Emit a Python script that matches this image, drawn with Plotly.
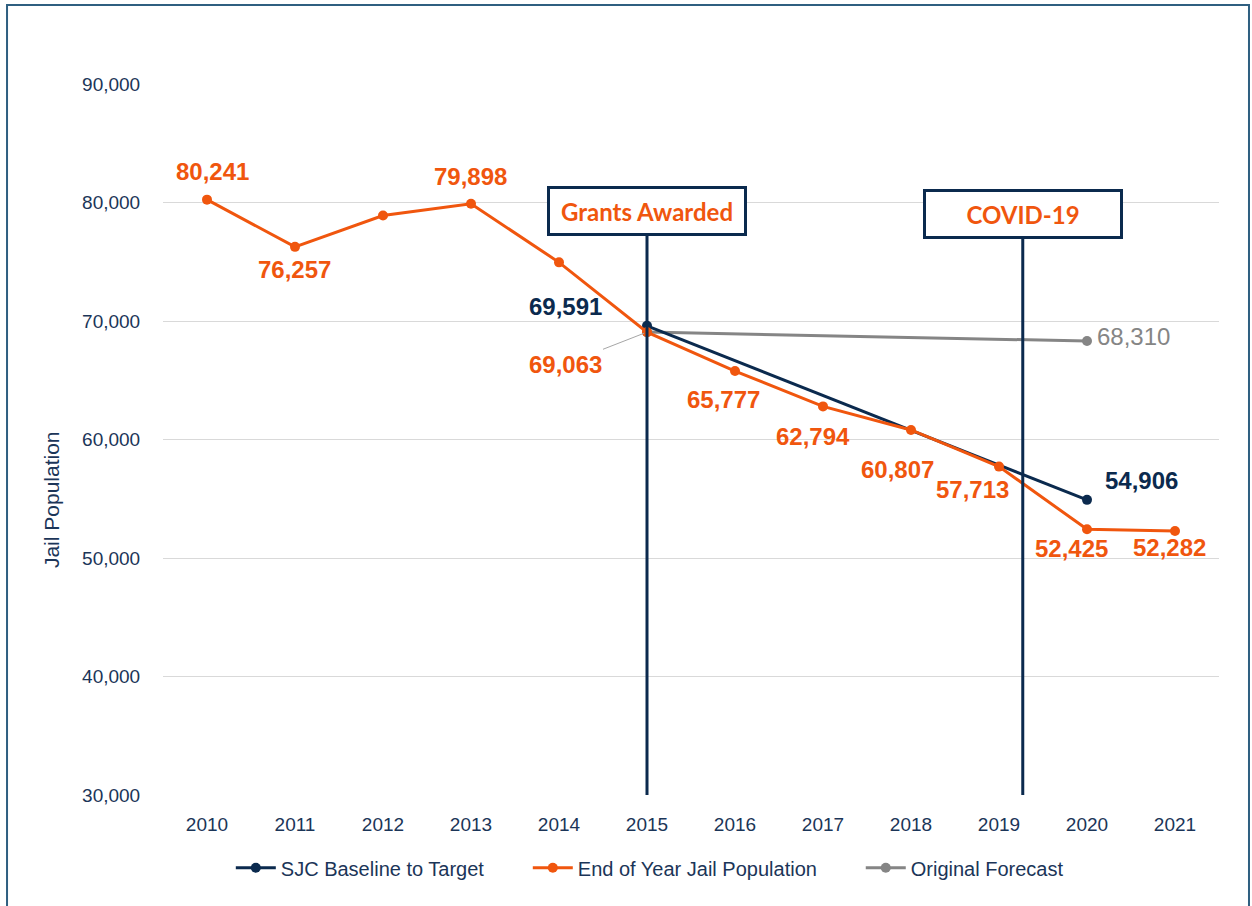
import plotly.graph_objects as go

years = [2010, 2011, 2012, 2013, 2014, 2015, 2016, 2017, 2018, 2019, 2020, 2021]
jail_pop = [80241, 76257, 78900, 79898, 74950, 69063, 65777, 62794, 60807, 57713, 52425, 52282]
baseline_years = [2015, 2020]
baseline_vals = [69591, 54906]
forecast_years = [2015, 2020]
forecast_vals = [69063, 68310]
events = ["Grants Awarded", "COVID-19"]
event_x = [2015, 2019.27]

NAVY = "#0B2A4E"
ORANGE = "#F0560E"
GRAY = "#858585"
TICK = "#1B3558"
FONT = "Liberation Sans, Arial, sans-serif"
PAD = "\u00a0" * 7

fig = go.Figure()
fig.add_trace(go.Scatter(x=forecast_years, y=forecast_vals, mode="lines+markers",
                         name="Original Forecast", legendrank=3,
                         line=dict(color=GRAY, width=3), marker=dict(size=10, color=GRAY)))
fig.add_trace(go.Scatter(x=baseline_years, y=baseline_vals, mode="lines+markers",
                         name="SJC Baseline to Target" + PAD, legendrank=1,
                         line=dict(color=NAVY, width=3), marker=dict(size=10, color=NAVY)))
fig.add_trace(go.Scatter(x=years, y=jail_pop, mode="lines+markers",
                         name="End of Year Jail Population" + PAD, legendrank=2,
                         line=dict(color=ORANGE, width=3), marker=dict(size=10, color=ORANGE)))

ann = []
LS = 24
lab_font = dict(family=FONT, size=LS, color=ORANGE)
# orange labels: (index, xshift, yshift)
orange_offsets = {0: (5, 28), 1: (-1, -23), 3: (-1, 27), 6: (-12, -28), 7: (-10, -30),
                  8: (-14, -40), 9: (-27, -23), 10: (-16, -19), 11: (-6, -17)}
for i, (dx, dy) in orange_offsets.items():
    ann.append(dict(x=years[i], y=jail_pop[i], text=f"<b>{jail_pop[i]:,}</b>", showarrow=False,
                    xshift=dx, yshift=dy, font=lab_font))
# 2015 orange label with leader line
ann.append(dict(x=years[5], y=jail_pop[5], text=f"<b>{jail_pop[5]:,}</b>", showarrow=True,
                ax=-82, ay=32, arrowhead=0, arrowwidth=1, arrowcolor="#A6A6A6", standoff=3,
                font=lab_font))
# navy labels
ann.append(dict(x=baseline_years[0], y=baseline_vals[0], text=f"<b>{baseline_vals[0]:,}</b>",
                showarrow=False, xshift=-82, yshift=19, font=dict(family=FONT, size=LS, color=NAVY)))
ann.append(dict(x=baseline_years[1], y=baseline_vals[1], text=f"<b>{baseline_vals[1]:,}</b>",
                showarrow=False, xshift=54, yshift=19, font=dict(family=FONT, size=LS, color=NAVY)))
# gray label
ann.append(dict(x=forecast_years[1], y=forecast_vals[1], text=f"{forecast_vals[1]:,}",
                showarrow=False, xanchor="left", xshift=8, yshift=5,
                font=dict(family=FONT, size=LS, color=GRAY)))

# y axis title as annotation
ann.append(dict(x=-0.105, y=0.415, xref="paper", yref="paper", text="Jail Population",
                textangle=-90, showarrow=False, xanchor="center", yanchor="middle",
                font=dict(family=FONT, size=21, color=TICK)))

shapes = []
box_y = [79283, 79030]
for name, ex, by in zip(events, event_x, box_y):
    shapes.append(dict(type="line", xref="x", yref="y", x0=ex, x1=ex, y0=30000, y1=by,
                       line=dict(color=NAVY, width=3)))
    ann.append(dict(x=ex, y=by, xref="x", yref="y", text=f"<b>{name}</b>", showarrow=False,
                    width=194, height=44, borderwidth=3, borderpad=0, bordercolor=NAVY,
                    bgcolor="white", font=dict(family="Lato, Open Sans, sans-serif", size=24, color=ORANGE)))

# outer frame
shapes.append(dict(type="rect", xref="paper", yref="paper", x0=-0.1477, x1=1.0284,
                   y0=-0.17, y1=1.1111, line=dict(color="#2F5F80", width=2), layer="below"))

fig.update_layout(
    width=1252, height=906,
    margin=dict(l=163, r=33, t=84, b=111),
    paper_bgcolor="white", plot_bgcolor="white",
    font=dict(family=FONT, color=TICK),
    showlegend=True,
    legend=dict(orientation="h", x=0.461, xanchor="center", y=-0.075, yanchor="top",
                font=dict(family=FONT, size=20, color=TICK), traceorder="normal",
                itemwidth=40),
    annotations=ann, shapes=shapes,
)
fig.update_xaxes(range=[2009.5, 2021.5], tickvals=years, ticktext=[str(y) for y in years],
                 showgrid=False, zeroline=False, showline=False,
                 ticks="outside", ticklen=12, tickcolor="rgba(0,0,0,0)",
                 tickfont=dict(family=FONT, size=19, color=TICK))
fig.update_yaxes(range=[30000, 90000], dtick=10000, tickformat=",",
                 showgrid=True, gridcolor="#D9D9D9", gridwidth=1, zeroline=False,
                 ticks="outside", ticklen=18, tickcolor="rgba(0,0,0,0)",
                 tickfont=dict(family=FONT, size=19, color=TICK))

fig.write_html("out.html", config={"displayModeBar": False},
               post_script="document.body.style.margin='0';document.body.style.overflow='hidden';")
